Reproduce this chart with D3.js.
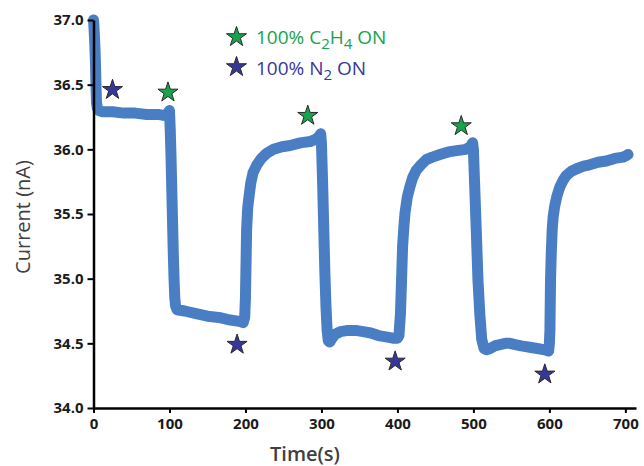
<!DOCTYPE html>
<html>
<head>
<meta charset="utf-8">
<script src="https://cdn.jsdelivr.net/npm/d3@7"></script>
<style>
  body { margin: 0; background: #fff; }
  svg text { font-family: "Open Sans", sans-serif; }
</style>
</head>
<body>
<svg id="chart" width="644" height="466"></svg>
<script>
// current trace
const time = [
  0, 0.5, 1, 1.5, 2, 2.5, 3, 3.5, 4, 5, 7, 12, 25, 40, 55, 70, 85, 94, 98, 100,
  101, 102, 103, 104, 105, 106, 107, 108, 110, 120, 135, 150, 165, 180, 192, 197,
  199, 200, 201, 201.5, 203, 204.6, 207, 210, 215, 221, 228, 237, 248, 259, 272, 285, 293, 297, 299,
  300, 301.5, 303, 304.5, 306, 307.5, 309, 311, 314, 318, 325, 335, 345, 355, 365, 375, 385, 394, 400,
  402, 404, 405.5, 406.8, 408.5, 410, 413, 416.4, 420, 425, 431, 438, 446, 456, 467, 478, 490, 496, 499,
  500, 501.5, 503, 504.5, 506, 508.5, 511, 514, 517, 522, 528, 535, 542, 548, 555, 563, 574, 584, 594, 599,
  600, 600.7, 601.5, 602.5, 603.7, 605, 607, 610, 613.8, 618, 622.6, 629, 636, 645, 653, 664, 675, 686, 697, 701, 703.5
];
const current = [
  37.0, 36.96, 36.9, 36.84, 36.77, 36.68, 36.56, 36.44, 36.36, 36.32, 36.3, 36.29, 36.29, 36.28, 36.28, 36.27, 36.27, 36.26, 36.28, 36.3,
  36.15, 35.95, 35.7, 35.45, 35.2, 35.0, 34.85, 34.79, 34.76, 34.75, 34.73, 34.71, 34.7, 34.68, 34.67, 34.66,
  34.7, 34.86, 35.2, 35.38, 35.55, 35.63, 35.74, 35.82, 35.88, 35.93, 35.97, 36.0, 36.02, 36.03, 36.05, 36.06, 36.08, 36.1, 36.12,
  36.05, 35.75, 35.4, 35.05, 34.78, 34.6, 34.52, 34.51, 34.54, 34.57, 34.59, 34.6, 34.6, 34.59, 34.58, 34.56, 34.55, 34.54, 34.54,
  34.56, 34.73, 35.0, 35.25, 35.4, 35.51, 35.63, 35.71, 35.78, 35.84, 35.88, 35.92, 35.94, 35.96, 35.98, 35.99, 36.0, 36.02, 36.05,
  36.0, 35.75, 35.5, 35.25, 34.99, 34.72, 34.53, 34.46, 34.45, 34.46, 34.48, 34.49, 34.5, 34.5, 34.49, 34.48, 34.47, 34.46, 34.45, 34.44,
  34.5, 34.6, 34.99, 35.2, 35.38, 35.48, 35.56, 35.64, 35.71, 35.76, 35.8, 35.83, 35.85, 35.87, 35.88, 35.9, 35.91, 35.93, 35.94, 35.95, 35.96
];

// gas switching markers
const c2h4Times = [98, 282, 484];
const c2h4Marks = [36.44, 36.26, 36.18];
const n2Times = [25, 189, 397, 594];
const n2Marks = [36.46, 34.49, 34.36, 34.26];

const xTicks = [0, 100, 200, 300, 400, 500, 600, 700];
const yTicks = [34.0, 34.5, 35.0, 35.5, 36.0, 36.5, 37.0];

const lineColor = "#4a7ec4";
const green = "#17a34e";
const purple = "#37379a";

const svg = d3.select("#chart");

const x = d3.scaleLinear().domain([0, 714]).range([93.5, 636]);
const y = d3.scaleLinear().domain([34, 37]).range([408, 20]);

// data trace
const points = time.map((t, i) => [t, current[i]]);

const line = d3.line()
    .x(d => x(d[0]))
    .y(d => y(d[1]));

svg.append("path")
    .datum(points)
    .attr("d", line)
    .attr("fill", "none")
    .attr("stroke", lineColor)
    .attr("stroke-width", 11)
    .attr("stroke-linejoin", "round")
    .attr("stroke-linecap", "round");

svg.selectAll(".pt")
    .data(points)
    .enter()
    .append("path")
    .attr("class", "pt")
    .attr("d", d3.symbol().type(d3.symbolDiamond2).size(70))
    .attr("transform", d => "translate(" + x(d[0]) + "," + y(d[1]) + ")")
    .attr("fill", lineColor);

// axes
const xAxis = svg.append("g")
    .attr("transform", "translate(0," + y(34) + ")")
    .call(d3.axisBottom(x).tickValues(xTicks).tickSize(5).tickSizeOuter(0).tickPadding(5));

const yAxis = svg.append("g")
    .attr("transform", "translate(" + x(0) + ",0)")
    .call(d3.axisLeft(y).tickValues(yTicks).tickFormat(d3.format(".1f")).tickSize(6).tickSizeOuter(0).tickPadding(4));

[xAxis, yAxis].forEach(g => {
    g.select(".domain").attr("stroke", "#000").attr("stroke-width", 2.5);
    g.selectAll(".tick line").attr("stroke", "#000").attr("stroke-width", 2);
    g.selectAll(".tick text")
        .attr("fill", "#1a1a1a")
        .style("font-family", "'Open Sans', sans-serif")
        .style("font-size", "15px")
        .style("font-weight", "700");
});

// axis titles
svg.append("text")
    .attr("transform", "translate(30,217) rotate(-90)")
    .attr("text-anchor", "middle")
    .attr("fill", "#404040")
    .style("font-size", "20px")
    .text("Current (nA)");

svg.append("text")
    .attr("x", 305)
    .attr("y", 461)
    .attr("text-anchor", "middle")
    .attr("fill", "#404040")
    .style("font-size", "20px")
    .style("font-weight", "600")
    .text("Time(s)");

// stars on the trace
const star = d3.symbol().type(d3.symbolStar).size(125);

function drawStars(ts, vs, color) {
    svg.selectAll(null)
        .data(ts.map((t, i) => [t, vs[i]]))
        .enter()
        .append("path")
        .attr("d", star)
        .attr("transform", d => "translate(" + x(d[0]) + "," + y(d[1]) + ")")
        .attr("fill", color)
        .attr("stroke", "#2a2a2a")
        .attr("stroke-width", 1);
}
drawStars(c2h4Times, c2h4Marks, green);
drawStars(n2Times, n2Marks, purple);

// legend
const legend = [
    { color: green, parts: [["100% C", 0], ["2", 1], ["H", 0], ["4", 1], [" ON", 0]] },
    { color: purple, parts: [["100% N", 0], ["2", 1], [" ON", 0]] }
];

legend.forEach((item, i) => {
    svg.append("path")
        .attr("d", star)
        .attr("transform", "translate(236.5," + (37 + i * 30) + ")")
        .attr("fill", item.color)
        .attr("stroke", "#2a2a2a")
        .attr("stroke-width", 1);

    const txt = svg.append("text")
        .attr("x", 256)
        .attr("y", 44 + i * 31)
        .attr("fill", item.color)
        .style("font-size", "19px");

    let low = false;
    item.parts.forEach(p => {
        const sub = p[1] === 1;
        let dy = 0;
        if (sub && !low) { dy = 5; low = true; }
        else if (!sub && low) { dy = -5; low = false; }
        txt.append("tspan")
            .attr("dy", dy)
            .style("font-size", sub ? "15px" : "19px")
            .text(p[0]);
    });
});
</script>
</body>
</html>
